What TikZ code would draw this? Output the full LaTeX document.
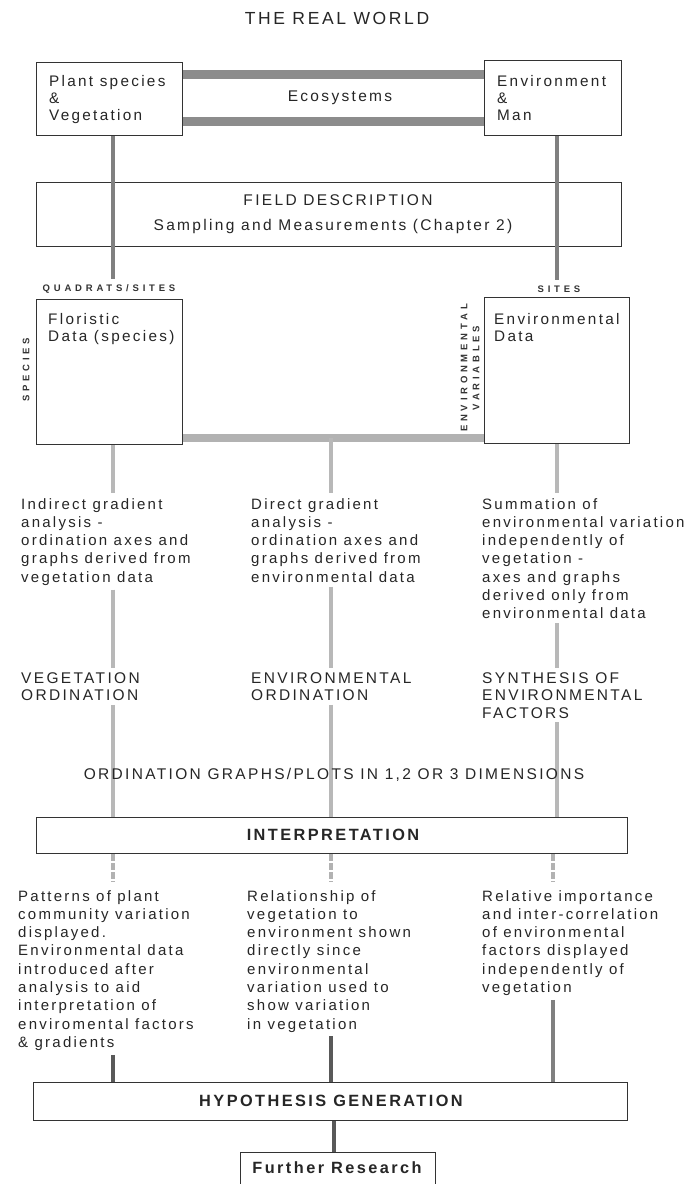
\documentclass[tikz,border=0pt]{standalone}
\usepackage{fontspec}
\setmainfont{Liberation Sans}
\newfontfamily\lsp[LetterSpace=15]{Liberation Sans}
\newfontfamily\lspw[LetterSpace=40]{Liberation Sans}
\begin{document}
\begin{tikzpicture}[x=1pt,y=-1pt,
  box/.style={draw=black!80,line width=1.3pt,inner sep=0pt,anchor=north west},
  conn/.style={line width=4pt,draw=black!50},
  lconn/.style={line width=4pt,draw=black!28},
  dconn/.style={line width=4pt,draw=black!30,dash pattern=on 7pt off 2pt},
  hconn/.style={line width=4.5pt,draw=black!65},
  band/.style={line width=9pt,draw=black!45},
  lband/.style={line width=8pt,draw=black!30},
  txt/.style={font=\lsp\fontsize{15}{18.3}\selectfont,text=black!85,align=left,inner sep=0pt,anchor=north west},
  boxtxt/.style={font=\lsp\fontsize{15.3}{17}\selectfont,text=black!85,align=left,inner sep=0pt,anchor=north west},
  captxt/.style={font=\lsp\fontsize{15.5}{17.5}\selectfont,text=black!85,align=left,inner sep=0pt},
  bcap/.style={font=\lsp\fontsize{16.3}{17}\selectfont\bfseries,text=black!85,inner sep=0pt},
  smalllab/.style={font=\lspw\fontsize{9.5}{10.5}\selectfont\bfseries,text=black!80,inner sep=0pt,align=center}]
\useasboundingbox[fill=white] (0,0) rectangle (688,1184);

% named x positions and band heights
\coordinate (xl) at (113,0);
\coordinate (xm) at (331,0);
\coordinate (xr) at (557,0);
\coordinate (xr2) at (553,0);
\coordinate (xf) at (334,0);
\coordinate (bt) at (0,74);
\coordinate (bb) at (0,121);
\coordinate (bm) at (0,437.5);

% title
\node[captxt,font=\lsp\fontsize{17.5}{19}\selectfont] (title) at (337,18) {THE REAL WORLD};

% top boxes
\node[box,minimum width=146pt,minimum height=73pt] (plant) at (36,62) {};
\node[boxtxt] (plantt) at (49,75) {Plant species\\\&\\Vegetation};
\node[box,minimum width=137pt,minimum height=75pt] (env) at (484,60) {};
\node[boxtxt] (envt) at (497,75) {Environment\\\&\\Man};

% ecosystem bands
\draw[band] (plant.east |- bt) -- (env.west |- bt);
\draw[band] (plant.east |- bb) -- (env.west |- bb);
\node[captxt] (eco) at (340,98) {Ecosystems};

% field description
\node[box,minimum width=585pt,minimum height=64pt] (field) at (36,182) {};
\node[captxt] (fieldt1) at (338,200) {FIELD DESCRIPTION};
\node[captxt] (fieldt2) at (333,226) {Sampling and Measurements (Chapter 2)};

% labels
\node[smalllab] (qs) at (109,289) {QUADRATS/SITES};
\node[smalllab] (sites) at (559,289) {SITES};

\draw[conn,shorten >=5pt] (xl |- plant.south) -- (xl |- qs.north);
\draw[conn,shorten >=5pt] (xr |- env.south) -- (xr |- sites.north);

% data boxes
\node[box,minimum width=146pt,minimum height=145pt] (flor) at (36,299) {};
\node[boxtxt] (flort) at (48,313) {Floristic\\Data (species)};
\node[box,minimum width=145pt,minimum height=146pt] (envd) at (484,297) {};
\node[boxtxt] (envdt) at (494,313) {Environmental\\Data};
\node[smalllab,rotate=90] (spec) at (26,370) {SPECIES};
\node[smalllab,rotate=90,font=\lspw\fontsize{9.5}{12}\selectfont\bfseries] (envvar) at (470,368) {ENVIRONMENTAL\\VARIABLES};

\draw[lband] (flor.east |- bm) -- (envd.west |- bm);

% first text row
\node[txt] (c1) at (21,498) {Indirect gradient\\analysis -\\ordination axes and\\graphs derived from\\vegetation data};
\node[txt] (c2) at (251,498) {Direct gradient\\analysis -\\ordination axes and\\graphs derived from\\environmental data};
\node[txt] (c3) at (482,498) {Summation of\\environmental variation\\independently of\\vegetation -\\axes and graphs\\derived only from\\environmental data};

\draw[lconn,shorten >=5pt] (xl |- flor.south) -- (xl |- c1.north);
\draw[lconn,shorten >=5pt] (xm |- bm) -- (xm |- c2.north);
\draw[lconn,shorten >=5pt] (xr |- envd.south) -- (xr |- c3.north);

% ordination labels
\node[captxt,anchor=north west] (v1) at (21,672) {VEGETATION\\ORDINATION};
\node[captxt,anchor=north west] (v2) at (251,672) {ENVIRONMENTAL\\ORDINATION};
\node[captxt,anchor=north west] (v3) at (482,672) {SYNTHESIS OF\\ENVIRONMENTAL\\FACTORS};

\draw[lconn,shorten <=4pt,shorten >=4pt] (xl |- c1.south) -- (xl |- v1.north);
\draw[lconn,shorten <=4pt,shorten >=4pt] (xm |- c2.south) -- (xm |- v2.north);
\draw[lconn,shorten <=4pt,shorten >=4pt] (xr |- c3.south) -- (xr |- v3.north);

% interpretation
\node[box,minimum width=591pt,minimum height=36pt] (interp) at (36,817) {};
\node[bcap] (interpt) at (333,835) {INTERPRETATION};

\draw[lconn,shorten <=4pt] (xl |- v1.south) -- (xl |- interp.north);
\draw[lconn,shorten <=4pt] (xm |- v2.south) -- (xm |- interp.north);
\draw[lconn,shorten <=4pt] (xr |- v3.south) -- (xr |- interp.north);

\node[captxt] (ograph) at (334,775) {ORDINATION GRAPHS/PLOTS IN 1,2 OR 3 DIMENSIONS};

% second text row
\node[txt] (d1) at (18,890) {Patterns of plant\\community variation\\displayed.\\Environmental data\\introduced after\\analysis to aid\\interpretation of\\enviromental factors\\\& gradients};
\node[txt] (d2) at (247,890) {Relationship of\\vegetation to\\environment shown\\directly since\\environmental\\variation used to\\show variation\\in vegetation};
\node[txt] (d3) at (482,890) {Relative importance\\and inter-correlation\\of environmental\\factors displayed\\independently of\\vegetation};

\draw[dconn,shorten >=8pt] (xl |- interp.south) -- (xl |- d1.north);
\draw[dconn,shorten >=8pt] (xm |- interp.south) -- (xm |- d2.north);
\draw[dconn,shorten >=8pt] (xr2 |- interp.south) -- (xr2 |- d3.north);

% hypothesis
\node[box,minimum width=594pt,minimum height=38pt] (hyp) at (33,1082) {};
\node[bcap] (hypt) at (331,1101) {HYPOTHESIS GENERATION};

\draw[hconn,shorten <=4pt] (xl |- d1.south) -- (xl |- hyp.north);
\draw[hconn,shorten <=4pt] (xm |- d2.south) -- (xm |- hyp.north);
\draw[conn,shorten <=4pt] (xr2 |- d3.south) -- (xr2 |- hyp.north);

% further research
\node[box,minimum width=195pt,minimum height=40pt] (fr) at (240,1152) {};
\node[bcap] (frt) at (337,1168) {Further Research};
\draw[hconn] (xf |- hyp.south) -- (xf |- fr.north);
\end{tikzpicture}
\end{document}
